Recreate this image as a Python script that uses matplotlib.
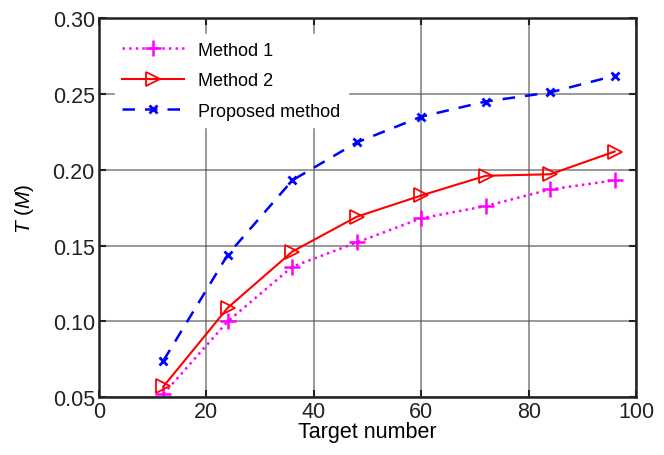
import numpy as np
import matplotlib
matplotlib.use("Agg")
import matplotlib.pyplot as plt

plt.rcParams['font.family'] = ['Liberation Sans', 'DejaVu Sans']
plt.rcParams['mathtext.fontset'] = 'custom'
plt.rcParams['mathtext.it'] = 'Liberation Sans:italic'
plt.rcParams['mathtext.rm'] = 'Liberation Sans'

# target number
x = [12, 24, 36, 48, 60, 72, 84, 96]
# T (M) values
method1 = [0.052, 0.100, 0.136, 0.152, 0.168, 0.176, 0.187, 0.193]
method2 = [0.057, 0.109, 0.146, 0.169, 0.183, 0.196, 0.197, 0.212]
proposed = [0.074, 0.144, 0.193, 0.218, 0.235, 0.245, 0.251, 0.262]

xticks = [0, 20, 40, 60, 80, 100]
yticks = [0.05, 0.10, 0.15, 0.20, 0.25, 0.30]

fig = plt.figure(figsize=(6.64, 4.56), dpi=100)
ax = fig.add_axes([0.149, 0.127, 0.809, 0.831])

ax.plot(x, method1, ':', color='magenta', lw=1.8, marker='+', ms=11, mew=1.8,
        label='Method 1')
ax.plot(x, method2, '-', color='red', lw=1.5, marker='>', ms=10, mew=1.3,
        mfc='none', label='Method 2')
ax.plot(x, proposed, '--', color='blue', lw=1.8, dashes=(5, 4), marker='x',
        ms=6, mew=2, label='Proposed method')

ax.set_xlim(0, 100)
ax.set_ylim(0.05, 0.30)
ax.set_xticks(xticks)
ax.set_yticks(yticks)
ax.set_yticklabels(['%.2f' % v for v in yticks])
ax.tick_params(direction='in', top=True, right=True, length=5, width=1.5,
               labelsize=15.5, colors='#222222', pad=3)
ax.grid(True, color='#555555', lw=1.2, alpha=0.7)
ax.set_axisbelow(True)
for s in ax.spines.values():
    s.set_linewidth(1.8)
    s.set_color('#222222')

ax.set_xlabel('Target number', fontsize=15.5, labelpad=-1)
ax.set_ylabel(r'$T$ $(M)$', fontsize=15, labelpad=12)

leg = ax.legend(loc='upper left', fontsize=13, frameon=True, fancybox=False,
                edgecolor='white', framealpha=1, handlelength=3.4,
                borderaxespad=0.9, labelspacing=0.75, handletextpad=0.8)

fig.savefig('out.png', dpi=100)
